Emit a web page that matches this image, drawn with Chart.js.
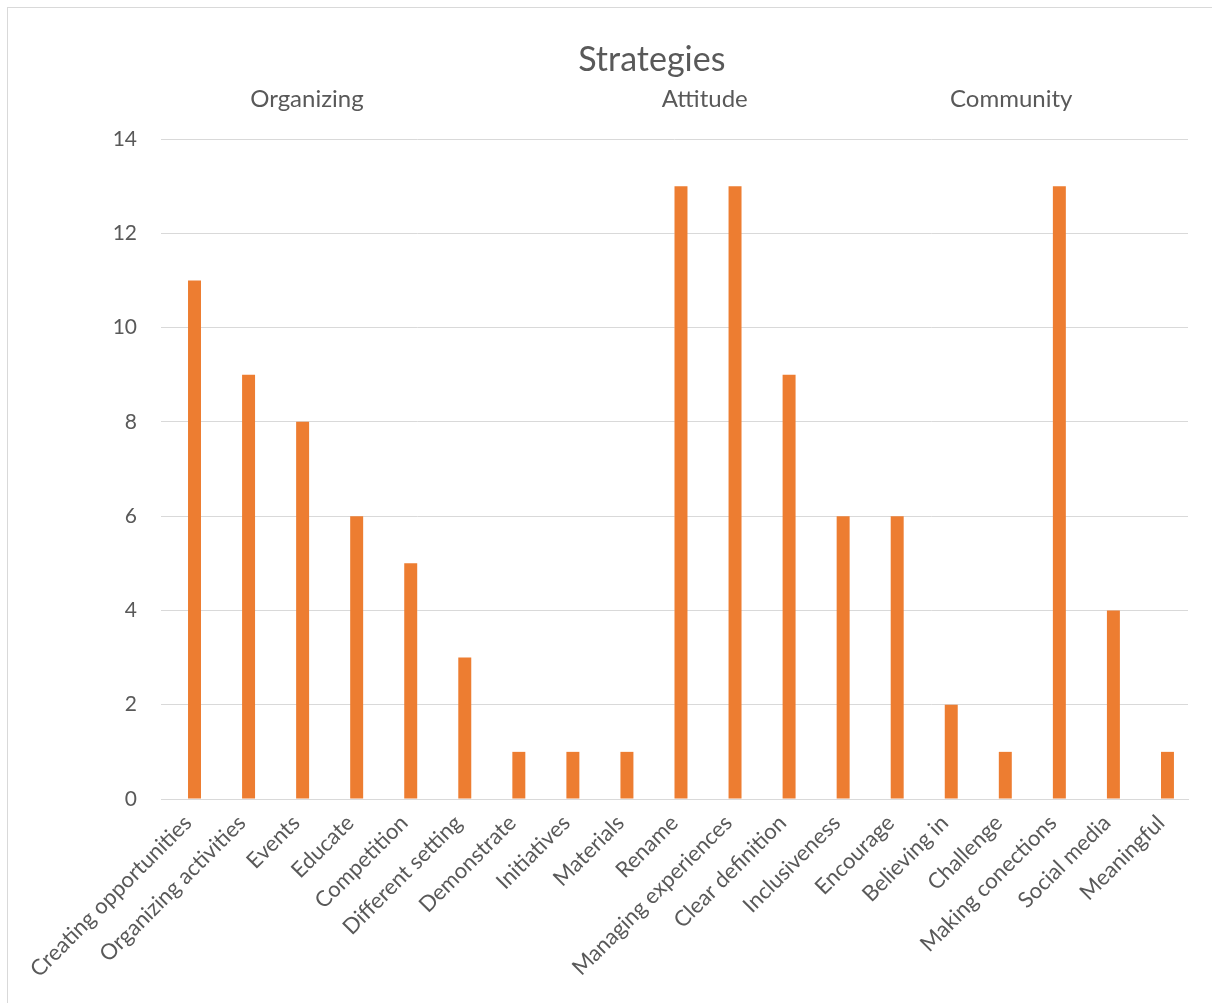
<!DOCTYPE html>
<html>
<head>
<meta charset="utf-8">
<script src="https://cdn.jsdelivr.net/npm/chart.js@4"></script>
<style>
    html, body { margin: 0; padding: 0; background: #fff; overflow: hidden; }
    #frame { position: absolute; left: 7px; top: 7px; width: 1220px; height: 1010px; border: 1px solid #D9D9D9; box-sizing: border-box; }
    #wrap { position: absolute; left: 0; top: 0; width: 1212px; height: 1003px; }
</style>
</head>
<body>
<div id="frame"></div>
<div id="wrap"><canvas id="strategiesChart" width="1212" height="1003"></canvas></div>
<script>
// Chart data
const categories = ['Creating opportunities', 'Organizing activities', 'Events', 'Educate', 'Competition',
    'Different setting', 'Demonstrate', 'Initiatives', 'Materials', 'Rename', 'Managing experiences',
    'Clear definition', 'Inclusiveness', 'Encourage', 'Believing in', 'Challenge', 'Making conections',
    'Social media', 'Meaningful'];
const counts = [11, 9, 8, 6, 5, 3, 1, 1, 1, 13, 13, 9, 6, 6, 2, 1, 13, 4, 1];
const chartTitle = 'Strategies';
const groupNames = ['Organizing', 'Attitude', 'Community'];
const yTicks = [0, 2, 4, 6, 8, 10, 12, 14];

const FONT = 'Lato, "Open Sans", sans-serif';
const TEXT = '#595959';
const GRID = '#D9D9D9';

// title and group captions over the plot (placed along the category axis)
const headerPlugin = {
    id: 'headerLabels',
    afterDraw(chart) {
        const { ctx, chartArea, scales } = chart;
        const at = [2.2, 9.56, 15.23];
        ctx.save();
        ctx.fillStyle = TEXT;
        ctx.textAlign = 'center';
        ctx.textBaseline = 'middle';
        ctx.font = '34px ' + FONT;
        ctx.fillText(chartTitle, scales.x.getPixelForValue(8.58), chartArea.top - 79);
        ctx.font = '24px ' + FONT;
        groupNames.forEach((name, i) => {
            ctx.fillText(name, scales.x.getPixelForValue(at[i]), chartArea.top - 40);
        });
        ctx.restore();
    }
};

function initializeStrategiesChart() {
    const ctx = document.getElementById('strategiesChart').getContext('2d');
    new Chart(ctx, {
        type: 'bar',
        data: {
            labels: categories,
            datasets: [{
                label: '',
                data: [],
                backgroundColor: '#ED7D31'
            }, {
                label: chartTitle,
                data: counts,
                backgroundColor: '#ED7D31'
            }]
        },
        options: {
            responsive: false,
            animation: false,
            datasets: { bar: { categoryPercentage: 0.48, barPercentage: 1 } },
            layout: { padding: { left: 0, right: 24, top: 139, bottom: 0 } },
            plugins: {
                legend: { display: false },
                tooltip: { enabled: false },
                title: { display: false }
            },
            scales: {
                x: {
                    grid: { display: false, drawTicks: false },
                    border: { display: true, color: GRID, width: 1 },
                    ticks: {
                        color: TEXT,
                        font: { family: FONT, size: 22 },
                        minRotation: 45,
                        maxRotation: 45,
                        autoSkip: false,
                        padding: 11
                    },
                    afterFit(scale) {
                        scale.height = 204;
                        scale.paddingLeft = 0;
                        scale.paddingRight = 0;
                    }
                },
                y: {
                    min: 0,
                    max: 14,
                    afterBuildTicks(scale) {
                        scale.ticks = yTicks.map(v => ({ value: v }));
                    },
                    grid: { color: GRID, lineWidth: 1, drawTicks: false },
                    border: { display: false },
                    ticks: {
                        color: TEXT,
                        font: { family: FONT, size: 21 },
                        padding: 24
                    },
                    afterFit(scale) {
                        scale.width = 161;
                        scale.paddingTop = 0;
                        scale.paddingBottom = 0;
                    }
                }
            }
        },
        plugins: [headerPlugin]
    });
}

document.addEventListener('DOMContentLoaded', initializeStrategiesChart);
</script>
</body>
</html>
